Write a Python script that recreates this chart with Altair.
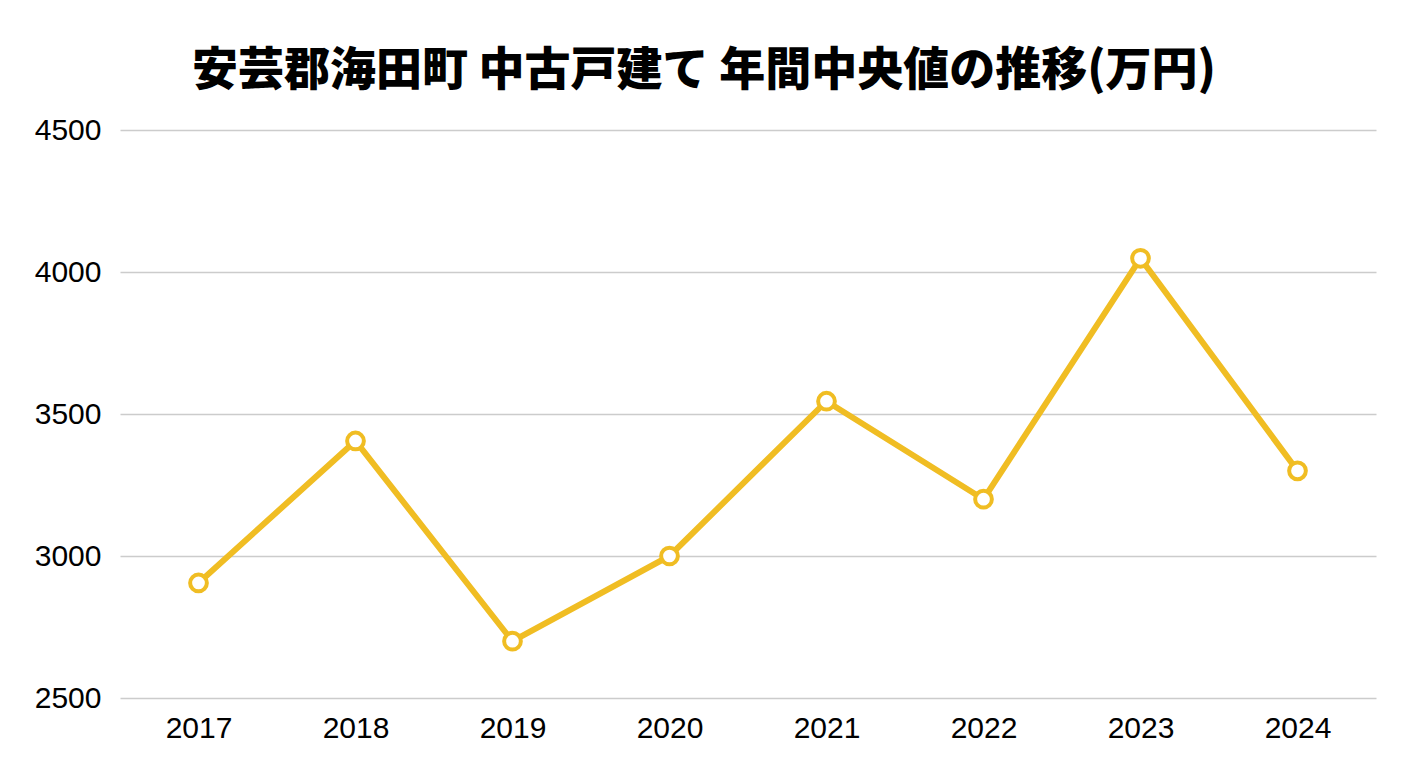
import altair as alt
import pandas as pd

years = ["2017", "2018", "2019", "2020", "2021", "2022", "2023", "2024"]
values = [2905, 3405, 2700, 3000, 3545, 3200, 4048, 3300]
title_text = "安芸郡海田町 中古戸建て 年間中央値の推移(万円)"
y_ticks = [2500, 3000, 3500, 4000, 4500]

df = pd.DataFrame({"year": years, "value": values})

COLOR = "#F0BD23"

x_enc = alt.X(
    "year:O",
    sort=years,
    scale=alt.Scale(type="point", padding=0.5),
    axis=alt.Axis(
        title=None, labelAngle=0, ticks=False, domain=False, grid=False,
        labelFont="Liberation Sans", labelFontSize=30, labelColor="#000000",
        labelPadding=15,
    ),
)
y_enc = alt.Y(
    "value:Q",
    scale=alt.Scale(domain=[2500, 4500], nice=False, zero=False),
    axis=alt.Axis(
        title=None, values=y_ticks, ticks=False, domain=False, format="d",
        gridColor="#CCCCCC", gridWidth=1.5,
        labelFont="Liberation Sans", labelFontSize=30, labelColor="#000000",
        labelPadding=19,
    ),
)

line = alt.Chart(df).mark_line(color=COLOR, strokeWidth=6).encode(x=x_enc, y=y_enc)
pts = alt.Chart(df).mark_point(
    shape="circle", filled=True, fill="white", stroke=COLOR, strokeWidth=4,
    size=280, opacity=1,
).encode(x=x_enc, y=y_enc)

chart = (
    alt.layer(line, pts)
    .properties(
        width=1256,
        height=568,
        background="white",
        title=alt.TitleParams(
            title_text,
            font="Noto Sans CJK JP",
            fontSize=46,
            fontWeight=900,
            color="#000000",
            anchor="middle",
            dx=-44,
            offset=20,
        ),
        autosize=alt.AutoSizeParams(type="none"),
        padding={"left": 112, "top": 122, "right": 24, "bottom": 50},
    )
    .configure_view(stroke=None)
)

chart.save("out.html", embed_options={"renderer": "svg", "actions": False})
